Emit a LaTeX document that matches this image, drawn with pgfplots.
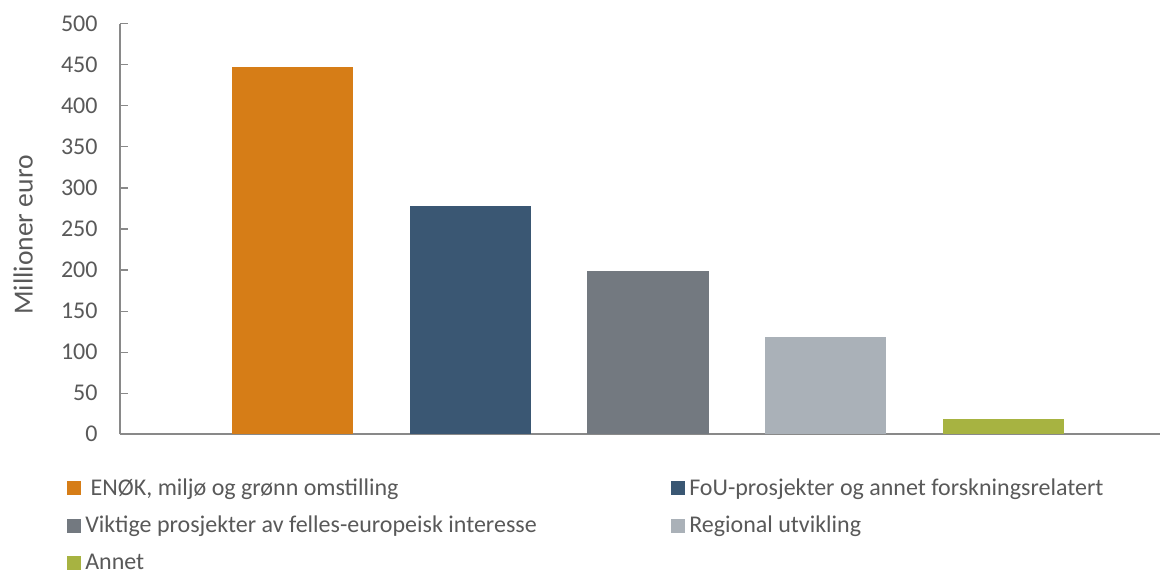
\documentclass[border=0pt]{standalone}
\usepackage{pgfplots}
\pgfplotsset{compat=1.18}
\usepackage{fontspec}
\setmainfont{Carlito}
\definecolor{txt}{HTML}{595959}
\definecolor{axc}{HTML}{898989}
\definecolor{c1}{HTML}{D67D17}
\definecolor{c2}{HTML}{3A5773}
\definecolor{c3}{HTML}{737980}
\definecolor{c4}{HTML}{AAB1B8}
\definecolor{c5}{HTML}{A7B341}
\begin{document}
\begin{tikzpicture}
\begin{axis}[
  at={(60pt,70.85pt)}, anchor=south west,
  scale only axis, width=520pt, height=205.3pt,
  xmin=-0.970, xmax=4.880, ymin=0, ymax=500,
  axis x line*=bottom, axis y line*=left,
  x axis line style={draw=axc, line width=1pt, -},
  y axis line style={draw=axc, line width=0.6pt, -},
  xtick=\empty,
  ytick={0,50,...,500},
  tick align=inside, major tick length=4pt,
  ytick style={draw=axc, line width=0.6pt},
  /pgf/number format/assume math mode=true,
  yticklabel style={font=\fontsize{12}{14}\selectfont, text=txt, xshift=-7.7pt},
  ylabel={Millioner euro},
  every axis y label/.style={at={(axis description cs:-0.0931,0.4854)}, rotate=90, anchor=center, font=\fontsize{13.8}{16}\selectfont, text=txt},
  legend columns=2,
  legend cell align=left,
  legend image code/.code={\fill[#1] (0pt,-4.25pt) rectangle (7pt,2.75pt);},
  legend style={draw=none, fill=none, inner sep=0pt, outer sep=0pt,
    at={(-0.05125,-0.1052)}, anchor=north west,
    font=\fontsize{12}{14}\selectfont, text=txt,
    nodes={text height=9pt, text depth=0.5pt, inner xsep=2.3pt, inner ysep=0pt},
    row sep=9.1pt,
    /tikz/every even column/.append style={column sep=64.7pt}},
]
\addplot[ybar, bar width=0.681, bar shift=0pt, fill=c1, draw=none] coordinates {(0,447)};
\addlegendentry{\ ENØK, miljø og grønn omstilling}
\addplot[ybar, bar width=0.681, bar shift=0pt, fill=c2, draw=none] coordinates {(1,278)};
\addlegendentry{FoU-prosjekter og annet forskningsrelatert}
\addplot[ybar, bar width=0.681, bar shift=0pt, fill=c3, draw=none] coordinates {(2,199)};
\addlegendentry{Viktige prosjekter av felles-europeisk interesse}
\addplot[ybar, bar width=0.681, bar shift=0pt, fill=c4, draw=none] coordinates {(3,119)};
\addlegendentry{Regional utvikling}
\addplot[ybar, bar width=0.681, bar shift=0pt, fill=c5, draw=none] coordinates {(4,19)};
\addlegendentry{Annet}
\end{axis}
\pgfresetboundingbox
\path (0,0) rectangle (580.5pt,288pt);
\end{tikzpicture}
\end{document}
